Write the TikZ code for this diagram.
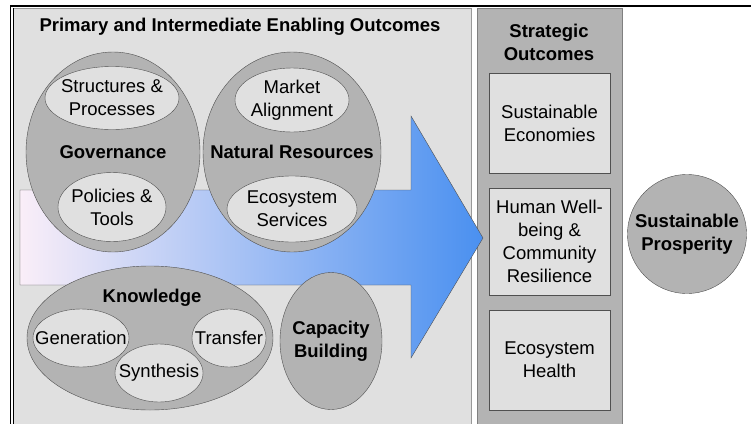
\documentclass[tikz,border=0pt]{standalone}
\usepackage{fontspec}
\setmainfont{Liberation Sans}
\usetikzlibrary{shapes.geometric}
\definecolor{panelgray}{HTML}{E0E0E0}
\definecolor{midgray}{HTML}{B3B3B3}
\definecolor{edgegray}{HTML}{505050}
\definecolor{arrowpink}{HTML}{FAEEF8}
\definecolor{arrowsky}{HTML}{94C8FC}
\definecolor{arrowblue}{HTML}{4A90F0}
\newcommand{\diagfont}{\fontsize{18.5}{23}\selectfont}

\begin{document}
\begin{tikzpicture}[x=1pt,y=-1pt,
		every node/.style={font=\diagfont,align=center,inner sep=0pt},
		outer/.style={ellipse,draw=edgegray,fill=midgray,label={[font=\diagfont\bfseries]center:{#1}}},
		inner/.style={ellipse,draw=edgegray,fill=panelgray,label={center:{#1}}},
		outcome/.style={rectangle,draw=edgegray,fill=panelgray,minimum width=121pt}]
		\useasboundingbox (0,0) rectangle (751,423);
		% panels
		\draw[draw=gray!80,fill=panelgray] (13,8) rectangle (471,430);
		\draw[draw=gray,fill=midgray] (477,8) rectangle (622,430);
		% big arrow
		\draw[draw=edgegray,left color=arrowpink,middle color=arrowsky,right color=arrowblue]
			(20,190) -- (411,190) -- (411,116) -- (483,238) -- (411,358) -- (411,285) -- (20,285) -- cycle;
		% enabling outcomes
		\node[font=\diagfont\bfseries] (maintitle) at (240,27) {Primary and Intermediate Enabling Outcomes};
		\node[outer=Governance,minimum width=174pt,minimum height=200pt] (gov) at (113,152) {};
		\node[outer=Natural Resources,minimum width=178pt,minimum height=200pt] (natres) at (292,152) {};
		\node[inner=Structures \&\\Processes,minimum width=134pt,minimum height=63pt] (struct) at (112,98) {};
		\node[inner=Policies \&\\Tools,minimum width=108pt,minimum height=69pt] (policies) at (112,207) {};
		\node[inner=Market\\Alignment,minimum width=114pt,minimum height=64pt] (market) at (292,100) {};
		\node[inner=Ecosystem\\Services,minimum width=130pt,minimum height=66pt] (ecoserv) at (292,209) {};
		\node[outer=,minimum width=246pt,minimum height=144pt] (know) at (150,338) {};
		\node[font=\diagfont\bfseries] (knowlabel) at (152,298) {Knowledge};
		\node[inner=Generation,minimum width=96pt,minimum height=58pt] (gen) at (81,338) {};
		\node[inner=Transfer,minimum width=74pt,minimum height=58pt] (transfer) at (229,338) {};
		\node[inner=Synthesis,minimum width=88pt,minimum height=58pt] (synth) at (159,373) {};
		\node[outer=Capacity\\Building,minimum width=102pt,minimum height=137pt] (capacity) at (331,341) {};
		% strategic outcomes
		\node[font=\diagfont\bfseries] (strattitle) at (549,42) {Strategic\\Outcomes};
		\node[outcome,minimum height=100pt] (econ) at (549.5,123) {Sustainable\\Economies};
		\node[outcome,minimum height=107pt] (wellbeing) at (549.5,241.5) {Human Well-\\being \&\\Community\\Resilience};
		\node[outcome,minimum height=100pt] (ecohealth) at (549.5,360) {Ecosystem\\Health};
		\node[circle,draw=edgegray,fill=midgray,minimum size=119pt,font=\diagfont\bfseries] (prosperity) at (687,234) {Sustainable\\Prosperity};
		% frame
		\draw[line width=1.2pt] (10.5,430) -- (10.5,6) -- (751,6);
		\draw[line width=0.6pt] (12.8,430) -- (12.8,8);
\end{tikzpicture}
\end{document}
